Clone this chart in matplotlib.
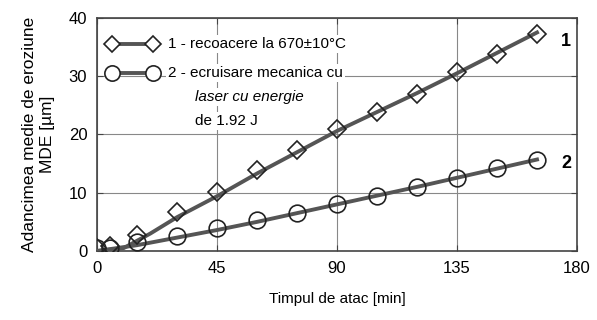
import matplotlib.pyplot as plt
from matplotlib.lines import Line2D

plt.rcParams['font.family'] = ['Liberation Sans', 'DejaVu Sans']

# measured points
t = [0, 5, 15, 30, 45, 60, 75, 90, 105, 120, 135, 150, 165]
mde_1 = [0.5, 0.9, 2.8, 6.7, 10.2, 13.9, 17.4, 20.9, 23.9, 27.0, 30.7, 33.8, 37.3]
mde_2 = [0.5, 0.6, 1.6, 2.5, 3.9, 5.4, 6.6, 8.1, 9.5, 11.0, 12.5, 14.2, 15.6]

# fitted curves
fit_t_1 = [0, 10, 20, 30, 45, 60, 90, 120, 135, 165]
fit_1 = [0.0, 0.5, 3.0, 5.8, 9.4, 13.3, 20.6, 27.1, 30.5, 37.5]
fit_t_2 = [0, 15, 30, 45, 60, 90, 120, 165]
fit_2 = [0.0, 1.0, 2.3, 3.6, 5.0, 8.0, 11.0, 15.7]

xticks = [0, 45, 90, 135, 180]
yticks = [0, 10, 20, 30, 40]

line_col = '#555555'

fig = plt.figure(figsize=(5.97, 3.2), dpi=100)
ax = fig.add_axes([0.1625, 0.2156, 0.804, 0.7284])

ax.plot(fit_t_1, fit_1, color=line_col, lw=2.8, zorder=3)
ax.plot(fit_t_2, fit_2, color=line_col, lw=2.8, zorder=3)
ax.plot(t, mde_1, ls='none', marker='D', ms=9, mfc='none', mec='#222222',
        mew=1.2, zorder=4)
ax.plot(t, mde_2, ls='none', marker='o', ms=12, mfc='none', mec='#222222',
        mew=1.2, zorder=4)

ax.set_xlim(0, 180)
ax.set_ylim(0, 40)
ax.set_xticks(xticks)
ax.set_yticks(yticks)
ax.tick_params(direction='in', length=4, labelsize=12, color='#444444',
               pad=7, top=True, right=True)
ax.grid(True, color='#888888', lw=0.8)
for s in ax.spines.values():
    s.set_color('#444444')
    s.set_linewidth(1.2)

ax.set_xlabel('Timpul de atac [min]', fontsize=11, labelpad=12)
ax.set_ylabel('Adancimea medie de eroziune\nMDE [µm]', fontsize=12.5,
              labelpad=10, linespacing=1.25)

# hand made legend
for ypx, mk, ms in [(44, 'D', 8), (73, 'o', 11)]:
    yf = 1 - ypx / 320
    fig.lines.append(Line2D([112 / 597, 153 / 597], [yf, yf],
                            transform=fig.transFigure, color=line_col,
                            lw=2.8, zorder=5))
    fig.lines.append(Line2D([112 / 597, 153 / 597], [yf, yf],
                            transform=fig.transFigure, ls='none', marker=mk,
                            ms=ms, mfc='white', mec='#222222', mew=1.2,
                            zorder=6))

box = dict(facecolor='white', edgecolor='none', pad=1.5)
fig.text(168 / 597, 1 - 44 / 320, '1 - recoacere la 670±10°C',
         fontsize=11, va='center', zorder=7, bbox=box)
fig.text(168 / 597, 1 - 73 / 320, '2 - ecruisare mecanica cu',
         fontsize=11, va='center', zorder=7, bbox=box)
fig.text(195 / 597, 1 - 97 / 320, 'laser cu energie', fontsize=11,
         style='italic', va='center', zorder=7, bbox=box)
fig.text(195 / 597, 1 - 121 / 320, 'de 1.92 J', fontsize=11,
         va='center', zorder=7, bbox=box)

ax.text(174, 36.0, '1', fontsize=13, fontweight='bold', va='center')
ax.text(174, 15.1, '2', fontsize=13, fontweight='bold', va='center')

fig.savefig('out.png', dpi=100)
